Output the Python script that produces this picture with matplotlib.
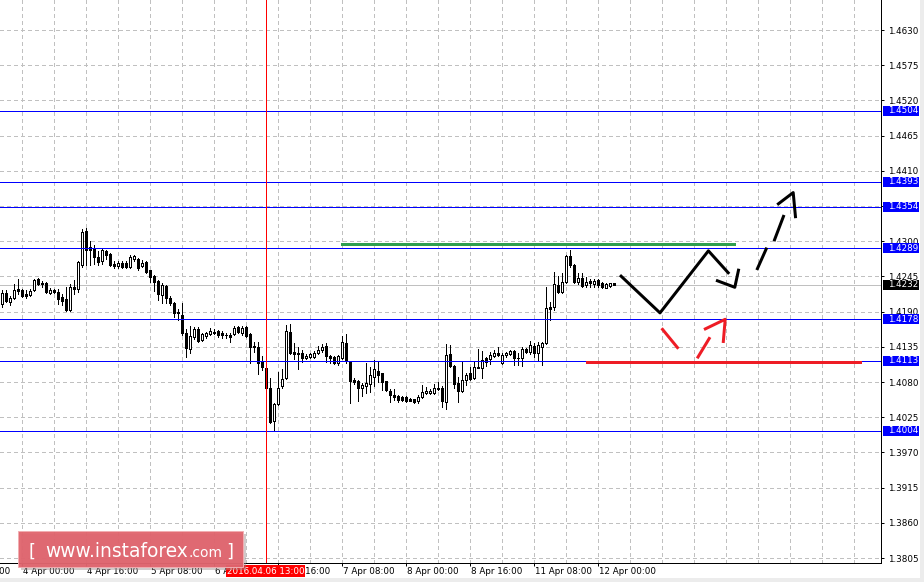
import numpy as np
import matplotlib.pyplot as plt
import matplotlib.transforms as mtransforms
from matplotlib.patches import Rectangle

plt.rcParams['font.family'] = ['DejaVu Sans']

# hourly candles, first bar sits 5 hours before 4 Apr 00:00 (bar 0)
first_bar = -5
opens = [1.4202, 1.4219, 1.4205, 1.4211, 1.4225, 1.4224, 1.4218, 1.4216, 1.4224, 1.4241,
         1.4235, 1.4235, 1.4219, 1.4224, 1.4221, 1.4213, 1.4210, 1.4193, 1.4228, 1.4225,
         1.4263, 1.4316, 1.4291, 1.4288, 1.4275, 1.4269, 1.4285, 1.4280, 1.4264, 1.4261,
         1.4266, 1.4266, 1.4260, 1.4272, 1.4272, 1.4261, 1.4268, 1.4255, 1.4246, 1.4238,
         1.4216, 1.4230, 1.4211, 1.4203, 1.4189, 1.4185, 1.4157, 1.4132, 1.4150, 1.4163,
         1.4146, 1.4152, 1.4155, 1.4157, 1.4160, 1.4157, 1.4153, 1.4153, 1.4155, 1.4166,
         1.4157, 1.4166, 1.4155, 1.4136, 1.4135, 1.4111, 1.4102, 1.4071, 1.4019, 1.4046,
         1.4074, 1.4086, 1.4158, 1.4127, 1.4125, 1.4125, 1.4117, 1.4119, 1.4119, 1.4125,
         1.4130, 1.4136, 1.4121, 1.4119, 1.4110, 1.4117, 1.4141, 1.4111, 1.4083, 1.4082,
         1.4071, 1.4074, 1.4077, 1.4088, 1.4097, 1.4094, 1.4082, 1.4066, 1.4060, 1.4058,
         1.4057, 1.4057, 1.4053, 1.4053, 1.4050, 1.4057, 1.4063, 1.4063, 1.4063, 1.4071,
         1.4071, 1.4049, 1.4124, 1.4105, 1.4078, 1.4066, 1.4083, 1.4094, 1.4086, 1.4103,
         1.4102, 1.4117, 1.4116, 1.4121, 1.4125, 1.4110, 1.4122, 1.4124, 1.4128, 1.4117,
         1.4117, 1.4132, 1.4127, 1.4136, 1.4125, 1.4135, 1.4141, 1.4197, 1.4197, 1.4232,
         1.4220, 1.4236, 1.4277, 1.4263, 1.4236, 1.4243, 1.4232, 1.4238, 1.4233, 1.4239,
         1.4235, 1.4227, 1.4230, 1.4235]
highs = [1.4224, 1.4224, 1.4214, 1.4233, 1.4241, 1.4225, 1.4224, 1.4225, 1.4241, 1.4243,
         1.4238, 1.4236, 1.4227, 1.4225, 1.4225, 1.4218, 1.4228, 1.4233, 1.4239, 1.4269,
         1.4319, 1.4321, 1.4300, 1.4294, 1.4285, 1.4288, 1.4286, 1.4282, 1.4269, 1.4269,
         1.4269, 1.4269, 1.4278, 1.4278, 1.4274, 1.4271, 1.4269, 1.4255, 1.4247, 1.4239,
         1.4235, 1.4232, 1.4214, 1.4205, 1.4194, 1.4203, 1.4163, 1.4168, 1.4166, 1.4166,
         1.4157, 1.4158, 1.4164, 1.4163, 1.4161, 1.4160, 1.4157, 1.4157, 1.4168, 1.4168,
         1.4168, 1.4168, 1.4157, 1.4143, 1.4143, 1.4121, 1.4103, 1.4086, 1.4047, 1.4096,
         1.4100, 1.4169, 1.4171, 1.4141, 1.4135, 1.4130, 1.4124, 1.4125, 1.4128, 1.4136,
         1.4139, 1.4141, 1.4122, 1.4121, 1.4122, 1.4152, 1.4155, 1.4113, 1.4086, 1.4083,
         1.4078, 1.4110, 1.4103, 1.4114, 1.4111, 1.4094, 1.4082, 1.4069, 1.4069, 1.4060,
         1.4058, 1.4058, 1.4055, 1.4054, 1.4060, 1.4075, 1.4072, 1.4069, 1.4077, 1.4080,
         1.4074, 1.4139, 1.4138, 1.4107, 1.4088, 1.4111, 1.4094, 1.4103, 1.4111, 1.4132,
         1.4128, 1.4119, 1.4127, 1.4130, 1.4135, 1.4125, 1.4127, 1.4130, 1.4130, 1.4125,
         1.4135, 1.4133, 1.4144, 1.4141, 1.4143, 1.4143, 1.4228, 1.4205, 1.4252, 1.4246,
         1.4250, 1.4278, 1.4286, 1.4264, 1.4250, 1.4250, 1.4244, 1.4241, 1.4241, 1.4241,
         1.4236, 1.4235, 1.4235, 1.4235]
lows = [1.4197, 1.4205, 1.4200, 1.4210, 1.4218, 1.4213, 1.4211, 1.4214, 1.4222, 1.4232,
        1.4228, 1.4219, 1.4218, 1.4219, 1.4202, 1.4200, 1.4191, 1.4191, 1.4218, 1.4221,
        1.4260, 1.4263, 1.4263, 1.4264, 1.4263, 1.4264, 1.4272, 1.4261, 1.4258, 1.4258,
        1.4258, 1.4258, 1.4258, 1.4269, 1.4255, 1.4260, 1.4250, 1.4236, 1.4222, 1.4208,
        1.4203, 1.4203, 1.4200, 1.4182, 1.4177, 1.4153, 1.4119, 1.4125, 1.4147, 1.4143,
        1.4144, 1.4149, 1.4153, 1.4155, 1.4150, 1.4149, 1.4149, 1.4143, 1.4153, 1.4157,
        1.4153, 1.4150, 1.4110, 1.4127, 1.4093, 1.4099, 1.4069, 1.4016, 1.4003, 1.4044,
        1.4071, 1.4085, 1.4124, 1.4116, 1.4100, 1.4111, 1.4116, 1.4117, 1.4117, 1.4124,
        1.4127, 1.4111, 1.4110, 1.4108, 1.4107, 1.4116, 1.4110, 1.4047, 1.4077, 1.4050,
        1.4058, 1.4063, 1.4064, 1.4074, 1.4080, 1.4068, 1.4066, 1.4049, 1.4052, 1.4049,
        1.4050, 1.4049, 1.4050, 1.4047, 1.4047, 1.4055, 1.4061, 1.4061, 1.4061, 1.4068,
        1.4041, 1.4038, 1.4103, 1.4071, 1.4049, 1.4064, 1.4075, 1.4083, 1.4085, 1.4102,
        1.4086, 1.4105, 1.4108, 1.4119, 1.4121, 1.4108, 1.4119, 1.4122, 1.4107, 1.4107,
        1.4105, 1.4125, 1.4124, 1.4119, 1.4113, 1.4107, 1.4139, 1.4177, 1.4193, 1.4219,
        1.4219, 1.4235, 1.4260, 1.4235, 1.4233, 1.4228, 1.4228, 1.4228, 1.4228, 1.4228,
        1.4227, 1.4227, 1.4228, 1.4232]
closes = [1.4219, 1.4207, 1.4211, 1.4224, 1.4222, 1.4214, 1.4214, 1.4222, 1.4239, 1.4233,
          1.4233, 1.4220, 1.4224, 1.4220, 1.4210, 1.4207, 1.4193, 1.4228, 1.4225, 1.4268,
          1.4314, 1.4286, 1.4286, 1.4275, 1.4268, 1.4286, 1.4278, 1.4263, 1.4261, 1.4266,
          1.4260, 1.4260, 1.4275, 1.4277, 1.4258, 1.4266, 1.4252, 1.4244, 1.4236, 1.4218,
          1.4232, 1.4211, 1.4203, 1.4188, 1.4188, 1.4157, 1.4133, 1.4152, 1.4163, 1.4144,
          1.4155, 1.4157, 1.4160, 1.4158, 1.4153, 1.4153, 1.4154, 1.4150, 1.4164, 1.4158,
          1.4164, 1.4152, 1.4135, 1.4135, 1.4110, 1.4103, 1.4071, 1.4018, 1.4046, 1.4071,
          1.4085, 1.4160, 1.4125, 1.4124, 1.4124, 1.4117, 1.4121, 1.4124, 1.4125, 1.4130,
          1.4135, 1.4121, 1.4117, 1.4110, 1.4121, 1.4143, 1.4113, 1.4082, 1.4080, 1.4071,
          1.4075, 1.4078, 1.4091, 1.4100, 1.4091, 1.4080, 1.4068, 1.4060, 1.4057, 1.4052,
          1.4052, 1.4050, 1.4051, 1.4049, 1.4057, 1.4064, 1.4066, 1.4066, 1.4071, 1.4069,
          1.4050, 1.4122, 1.4105, 1.4077, 1.4066, 1.4083, 1.4091, 1.4085, 1.4103, 1.4102,
          1.4114, 1.4111, 1.4122, 1.4125, 1.4122, 1.4122, 1.4125, 1.4128, 1.4117, 1.4118,
          1.4132, 1.4127, 1.4138, 1.4125, 1.4138, 1.4141, 1.4196, 1.4194, 1.4233, 1.4220,
          1.4236, 1.4277, 1.4263, 1.4236, 1.4243, 1.4230, 1.4236, 1.4235, 1.4238, 1.4232,
          1.4228, 1.4233, 1.4235, 1.4232]

price_ticks = [1.3805, 1.3860, 1.3915, 1.3970, 1.4025, 1.4080, 1.4135, 1.4190, 1.4245,
               1.4300, 1.4355, 1.4410, 1.4465, 1.4520, 1.4575, 1.4630]
time_bars = [-16, 0, 16, 32, 48, 64, 80, 96, 112, 128, 144]
time_labels = ['1 Apr 16:00', '4 Apr 00:00', '4 Apr 16:00', '5 Apr 08:00', '6 Apr 00:00',
               '6 Apr 16:00', '7 Apr 08:00', '8 Apr 00:00', '8 Apr 16:00', '11 Apr 08:00',
               '12 Apr 00:00']

levels = [1.4504, 1.4393, 1.4354, 1.4289, 1.4178, 1.4113, 1.4004]
bid = 1.4232
cursor_bar = 61
cursor_label = '2016.04.06 13:00'
green_level, green_from, green_to = 1.4295, 79.75, 178.25
red_level, red_from, red_to = 1.4112, 141.0, 209.7

# hand drawn forecast strokes (bar, price)
black_paths = [
    [(149.5, 1.4247), (159.5, 1.4188), (171.6, 1.4285), (176.8, 1.4249)],
    [(173.5, 1.4239), (178.2, 1.4228), (179.2, 1.4257)],
    [(183.7, 1.4255), (186.2, 1.4290)],
    [(188.0, 1.4300), (190.5, 1.4341)],
    [(188.8, 1.4357), (192.8, 1.4376), (193.4, 1.4336)],
]
red_paths = [
    [(159.9, 1.4164), (164.1, 1.4132)],
    [(168.8, 1.4117), (172.0, 1.4150)],
    [(170.5, 1.4162), (175.8, 1.4178), (175.3, 1.4141)],
]

W, H = 924, 582
PX = 72 / 100  # one pixel in points
BLUE = '#0000ff'
GRID = '#c0c0c0'
FS = 6.3

fig = plt.figure(figsize=(W / 100, H / 100), dpi=100)
ax = fig.add_axes([0, 19 / H, 881 / W, 563 / H])
ax.set_xlim(-5.5, 214.75)
ax.set_ylim(1.37972, 1.46769)

# grid
for b in range(0, 215, 8):
    ax.axvline(b, color=GRID, lw=PX, ls=(0, (4, 4)), zorder=0, antialiased=False)
for p in price_ticks:
    ax.axhline(p, color=GRID, lw=PX, ls=(0, (4, 4)), zorder=0, antialiased=False)

ax.axhline(bid, color=GRID, lw=PX, zorder=1, antialiased=False)

# candles
o = np.array(opens)
c = np.array(closes)
h = np.maximum(np.array(highs), np.maximum(o, c))
l = np.minimum(np.array(lows), np.minimum(o, c))
idx = np.arange(first_bar, first_bar + len(o))
up = c >= o
ax.vlines(idx, l, h, color='black', lw=PX, zorder=3, antialiased=False)
bot = np.minimum(o, c)
hgt = np.abs(c - o)
ax.bar(idx[up], hgt[up], bottom=bot[up], width=0.5, facecolor='white',
       edgecolor='black', linewidth=PX, zorder=4, antialiased=False)
ax.bar(idx[~up], hgt[~up], bottom=bot[~up], width=0.5, facecolor='black',
       edgecolor='black', linewidth=PX, zorder=4, antialiased=False)

# levels and objects
for p in levels:
    ax.axhline(p, color=BLUE, lw=PX, zorder=5, antialiased=False)
ax.axvline(cursor_bar, color='#ff0000', lw=PX, zorder=5, antialiased=False)
ax.hlines(green_level, green_from, green_to, color='#2f9e4f', lw=3 * PX, zorder=6,
          antialiased=False)
ax.hlines(red_level, red_from, red_to, color='#ee1c25', lw=3 * PX, zorder=6,
          antialiased=False)

for path in black_paths:
    xs, ys = zip(*path)
    ax.plot(xs, ys, color='black', lw=3 * PX, zorder=7, solid_capstyle='butt')
for path in red_paths:
    xs, ys = zip(*path)
    ax.plot(xs, ys, color='#ee1c25', lw=3 * PX, zorder=7, solid_capstyle='butt')

# axes styling
for s in ['top', 'left']:
    ax.spines[s].set_visible(False)
for s in ['right', 'bottom']:
    ax.spines[s].set_linewidth(PX)
    ax.spines[s].set_color('black')
    ax.spines[s].set_antialiased(False)

ax.yaxis.tick_right()
ax.set_yticks(price_ticks)
ax.set_yticklabels([f'{p:.4f}' for p in price_ticks])
ax.tick_params(axis='y', direction='out', length=3 * PX, width=PX, pad=4 * PX,
               labelsize=FS)

vis_bars = [b for b in time_bars if b >= -5]
ax.set_xticks(vis_bars)
ax.set_xticklabels([''] * len(vis_bars))
ax.tick_params(axis='x', direction='out', length=3 * PX, width=PX)

xtrans = mtransforms.blended_transform_factory(ax.transData, ax.transAxes)
for b, lbl in zip(time_bars, time_labels):
    ax.text(b + 0.2, -8.5 / 563, lbl, transform=xtrans, ha='left', va='center',
            fontsize=FS, clip_on=False)

# coloured price labels
ytrans = mtransforms.blended_transform_factory(ax.transAxes, ax.transData)
box_h = 10 / 6400
for p, col in [(v, BLUE) for v in levels] + [(bid, 'black')]:
    ax.add_patch(Rectangle((1.5 / 881 + 1, p - box_h / 2), 37 / 881, box_h,
                           transform=ytrans, facecolor=col, edgecolor='none',
                           clip_on=False, zorder=8, antialiased=False))
    ax.text(1 + 7 / 881, p, f'{p:.4f}', transform=ytrans, ha='left', va='center',
            color='white', fontsize=FS, clip_on=False, zorder=9)

# red time label at the bottom
fig.add_artist(Rectangle((226 / W, 1 - 577 / H), 79 / W, 12 / H, transform=fig.transFigure,
                         facecolor='#ff0000', edgecolor='none', zorder=10))
fig.text(265.5 / W, 1 - 571.5 / H, cursor_label, ha='center', va='center',
         color='white', fontsize=FS, zorder=11)

# watermark
fig.add_artist(Rectangle((21 / W, 1 - 570 / H), 225 / W, 36 / H, transform=fig.transFigure,
                         facecolor='#9a8a8a', edgecolor='none', alpha=0.45, zorder=12))
fig.add_artist(Rectangle((18 / W, 1 - 567 / H), 225 / W, 36 / H, transform=fig.transFigure,
                         facecolor='#e0646d', edgecolor='#f2aeb2', lw=PX, alpha=0.95,
                         zorder=13))
fig.text(29 / W, 1 - 557 / H, '[', fontsize=13, color='white', va='baseline', zorder=14)
fig.text(45 / W, 1 - 557 / H, 'www.instaforex', fontsize=13.4, color='white',
         va='baseline', zorder=14)
fig.text(189 / W, 1 - 557 / H, '.com', fontsize=10, color='white', va='baseline', zorder=14)
fig.text(226 / W, 1 - 557 / H, ']', fontsize=13, color='white', va='baseline', zorder=14)

# window edges
fig.add_artist(Rectangle((0, 0), 1, 4 / H, transform=fig.transFigure,
                         facecolor='#ececec', edgecolor='none', zorder=15))
fig.add_artist(Rectangle((920 / W, 0), 4 / W, 1, transform=fig.transFigure,
                         facecolor='#ececec', edgecolor='none', zorder=15))

fig.savefig('out.png', dpi=100)
